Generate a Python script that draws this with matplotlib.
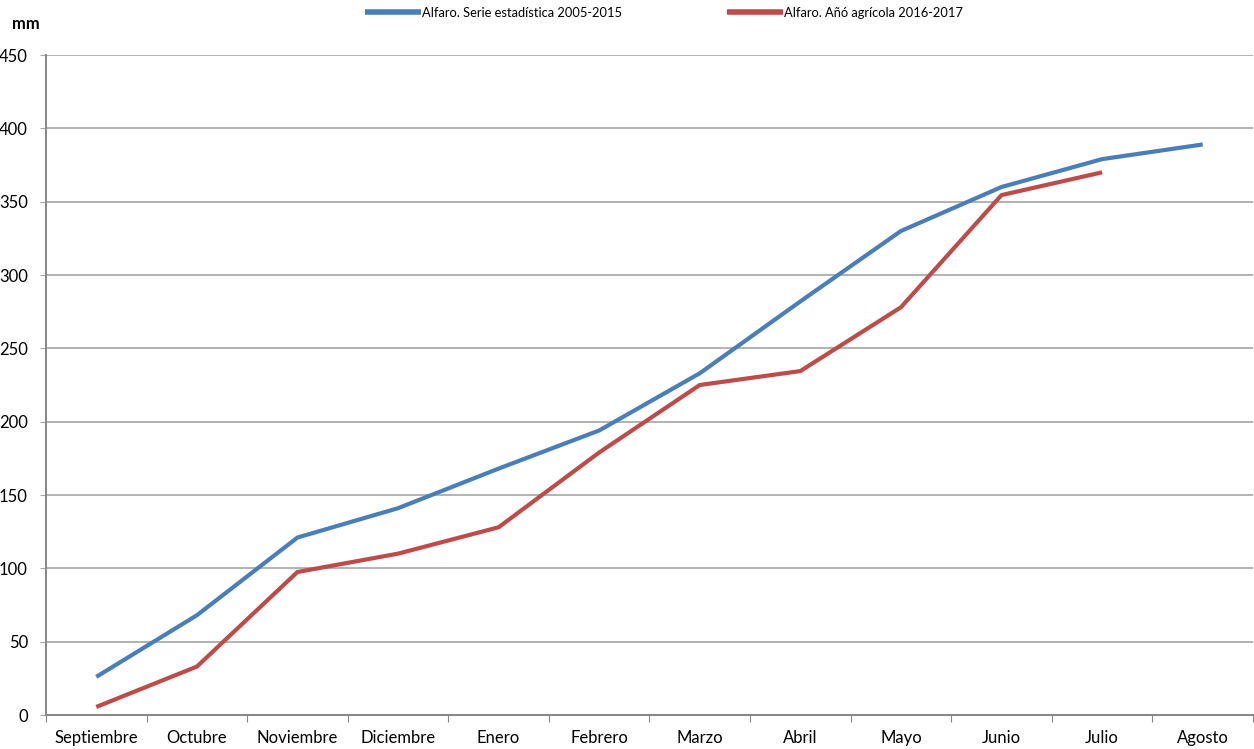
import matplotlib
matplotlib.use("Agg")
import matplotlib.pyplot as plt
from matplotlib import font_manager
import numpy as np

months = ["Septiembre", "Octubre", "Noviembre", "Diciembre", "Enero", "Febrero",
          "Marzo", "Abril", "Mayo", "Junio", "Julio", "Agosto"]
serie_2005_2015 = [26, 68, 121, 141, 168, 194, 233, 282, 330, 360, 379, 389]
anio_2016_2017 = [5.5, 33, 97.5, 110, 128, 179, 225, 234.5, 278, 354.5, 370]
label_blue = "Alfaro. Serie estadística 2005-2015"
label_red = "Alfaro. Añó agrícola 2016-2017"

names = {f.name for f in font_manager.fontManager.ttflist}
fam = "Lato" if "Lato" in names else "DejaVu Sans"
plt.rcParams['font.family'] = [fam, 'DejaVu Sans']

fig = plt.figure(figsize=(12.54, 7.49), dpi=100)
ax = fig.add_axes([46/1254, 1-715/749, 1-46/1254 - 1/1254, (715-55)/749])

x = np.arange(len(months))
blue = "#4a7ebb"
red = "#be4b48"
l1, = ax.plot(x, serie_2005_2015, color=blue, lw=3, solid_capstyle='butt')
l2, = ax.plot(x[:len(anio_2016_2017)], anio_2016_2017, color=red, lw=3, solid_capstyle='butt')

ax.set_xlim(-0.5, 11.5)
ax.set_ylim(0, 450)
ax.set_yticks(np.arange(0, 451, 50))
ax.yaxis.grid(True, color="#a6a6a6", lw=1.2)
ax.set_axisbelow(True)
ax.set_xticks(np.arange(-0.5, 11.6, 1))
ax.set_xticklabels([])
ax.set_xticks(x, minor=True)
ax.set_xticklabels(months, minor=True, fontsize=12)
ax.tick_params(axis='x', which='minor', length=0, pad=11)
ax.tick_params(axis='x', which='major', length=5, color="#868686", direction='out')
ax.tick_params(axis='y', length=4, color="#a6a6a6", labelsize=12, pad=9)
for s in ["top", "right"]:
    ax.spines[s].set_visible(False)
for s in ["left", "bottom"]:
    ax.spines[s].set_color("#868686")
    ax.spines[s].set_linewidth(1.4)

fig.text(12/1254, 1-24/749, "mm", fontsize=12, fontweight='bold', va='center', ha='left')

for line, lab, x0 in [(l1, label_blue, 365), (l2, label_red, 727)]:
    lg = fig.legend([line], [lab], loc='center left', bbox_to_anchor=(x0/1254, 1-13/749),
                    frameon=False, fontsize=9.3, handlelength=4.3, handletextpad=0.15,
                    borderaxespad=0, borderpad=0)
    for h in lg.legend_handles:
        h.set_linewidth(4)

fig.savefig("out.png", dpi=100)
